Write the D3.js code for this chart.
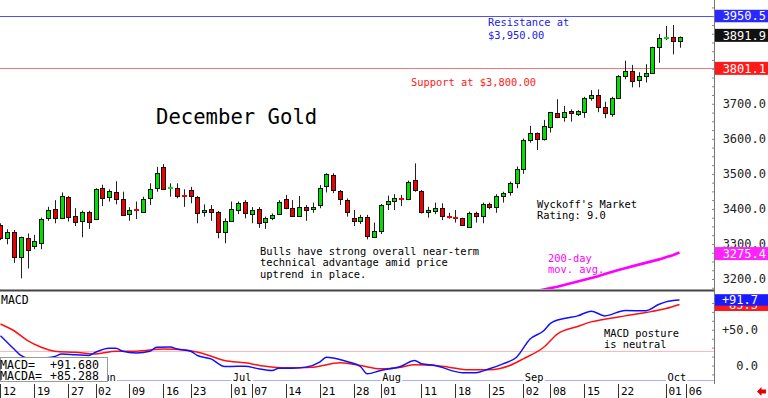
<!DOCTYPE html>
<html>
<head>
<meta charset="utf-8">
<script src="https://cdn.jsdelivr.net/npm/d3@7"></script>
<style>
  body { margin: 0; background: #fff; }
  text { font-family: "DejaVu Sans Mono", monospace; }
</style>
</head>
<body>
<svg id="chart" width="768" height="398"></svg>
<script>
// daily OHLC, December gold, trading day 0 = May 12
let open  = [3354,3316,3335,3262,3318,3294,3304,3375,3399,3373,3435,3381,3366,3392,3371,3460,3435,3448,3428,3385,
             3398,3392,3430,3459,3520,3458,3459,3439,3454,3435,3390,3399,3392,3335,3366,3397,3421,3385,3399,3364,
             3373,3385,3428,3402,3381,3406,3399,3411,3465,3497,3452,3425,3373,3366,3378,3321,3337,3413,3423,3430,
             3427,3483,3452,3390,3395,3402,3379,3376,3373,3349,3389,3380,3414,3405,3438,3447,3473,3513,3597,3616,
             3599,3633,3675,3661,3680,3670,3677,3717,3725,3692,3670,3717,3780,3794,3768,3779,3787,3861,3888,3892,3880];
let high  = [3359,3342,3340,3321,3330,3326,3375,3406,3425,3447,3437,3402,3395,3395,3459,3469,3456,3479,3449,3405,
             3421,3435,3473,3520,3528,3473,3473,3456,3463,3437,3413,3411,3394,3373,3421,3421,3425,3405,3405,3378,
             3387,3425,3440,3425,3437,3411,3418,3468,3502,3502,3454,3430,3397,3383,3383,3361,3414,3438,3442,3440,
             3481,3530,3454,3406,3418,3416,3389,3397,3375,3392,3392,3418,3418,3442,3449,3478,3521,3601,3637,3618,
             3654,3677,3713,3694,3684,3682,3720,3739,3741,3706,3720,3782,3823,3811,3790,3813,3863,3899,3922,3925,3892];
let low   = [3311,3299,3246,3202,3230,3285,3285,3366,3359,3371,3364,3351,3319,3343,3370,3408,3421,3413,3381,3366,
             3371,3389,3411,3449,3454,3435,3430,3406,3416,3359,3378,3366,3316,3302,3364,3385,3373,3359,3346,3343,
             3368,3383,3399,3378,3378,3366,3389,3402,3447,3445,3411,3378,3351,3357,3313,3319,3328,3397,3397,3408,
             3425,3449,3387,3375,3385,3368,3372,3361,3352,3346,3361,3359,3399,3389,3418,3438,3459,3500,3589,3568,
             3595,3618,3659,3649,3649,3665,3660,3709,3676,3659,3663,3716,3770,3747,3747,3761,3785,3817,3882,3841,3860];
let close = [3316,3335,3264,3319,3283,3309,3371,3397,3373,3437,3378,3364,3390,3364,3458,3430,3450,3428,3383,3397,
             3396,3427,3456,3503,3456,3460,3437,3437,3437,3389,3397,3392,3335,3366,3400,3418,3389,3397,3359,3373,
             3383,3421,3402,3381,3405,3397,3406,3461,3499,3454,3427,3392,3366,3378,3323,3337,3411,3423,3432,3428,
             3478,3454,3390,3397,3403,3380,3377,3374,3354,3389,3380,3413,3405,3438,3446,3473,3513,3598,3618,3599,
             3637,3676,3661,3677,3673,3680,3717,3725,3692,3675,3717,3780,3794,3766,3779,3789,3861,3887,3890,3880,3891.9];

// 200-day moving average (only the part above the panel floor)
let maDays   = [76,77,78,79,80,81,82,83,84,85,86,87,88,89,90,91,92,93,94,95,96,97,98,99,100];
let maValues = [3154,3158,3162,3166,3170,3174,3178,3183,3188,3193,3198,3203,3208,3214,3220,3226,3231,3236,3241,3246,3251,3256,3262,3268,3275.4];

// MACD (blue) and its average (red)
let macdDays  = [0,2,3,5,6,8,9,11,13,14,16,17,18,20,22,23,25,26,28,29,31,33,34,36,38,40,41,43,45,47,48,49,51,53,54,56,59,61,62,64,68,70,72,74,76,78,80,81,83,85,87,89,92,95,97,98,100];
let macdVals  = [41.7,23,14,8.3,10,12.5,16,15,14,18.5,24,24,20,17.6,20,25.5,26,23,20,14,9.3,-1.4,-1.4,-1,-4.6,-7,-3.7,-3.7,-2.3,4.6,11.6,10.6,5.6,-1.4,-11.6,-7,-1,7,2.3,0,-10,-10,-4.6,2.3,11.6,37,48.6,59,65.7,69.4,76,69.4,77,76.4,85.6,89,91.7];
let macdaDays = [0,2,4,6,8,11,14,17,20,24,27,30,33,36,39,42,46,50,53,56,59,61,64,66,69,72,75,77,80,82,85,87,89,92,95,98,100];
let macdaVals = [58,48.6,34.7,25.5,20,18.5,16.2,20,20,23,22,16.2,7,3.7,-1,-3.2,-2.3,3.7,0,-4.6,-2.3,1,0,-2.3,-6,-6,0,9.3,25.5,44,54.6,61,64.8,69.4,74,79.6,85.3];

// date axis
let tickDays   = [0,5,10,14,19,24,28,34,37,42,47,52,56,62,67,72,77,81,86,91,98,101];
let tickLabels = ["12","19","27","02","09","16","23","01","07","14","21","28","01","11","18","25","02","08","15","22","01","06"];
let monthDays   = [14,34,56,77,98];
let monthLabels = ["Jun","Jul","Aug","Sep","Oct"];

let priceTicks = [3200,3300,3400,3500,3600,3700,3800,3900];
let macdTicks = [0,50];

let resistance = 3950.5, support = 3801.1;
let lastMacd = 91.68, lastMacda = 85.288;

let plotW = 714;
let svg = d3.select('#chart');

let x = d3.scaleLinear().domain([-0.07, 105.08]).range([0, plotW]);
let yPrice = d3.scaleLinear().domain([3168.6, 3996.2]).range([290, 0]);
let yMacd = d3.scaleLinear().domain([-21, 102.8]).range([380.5, 292]);

let defs = svg.append('defs');
defs.append('clipPath').attr('id', 'priceClip')
  .append('rect').attr('x', 0).attr('y', 0).attr('width', plotW).attr('height', 289);
defs.append('clipPath').attr('id', 'macdClip')
  .append('rect').attr('x', 0).attr('y', 292).attr('width', plotW).attr('height', 89);

let crisp = v => Math.round(v) + 0.5;

// price panel
let price = svg.append('g').attr('clip-path', 'url(#priceClip)');

price.append('line')
  .attr('x1', 0).attr('x2', plotW)
  .attr('y1', crisp(yPrice(resistance))).attr('y2', crisp(yPrice(resistance)))
  .attr('stroke', '#5050ff');
price.append('line')
  .attr('x1', 0).attr('x2', plotW)
  .attr('y1', crisp(yPrice(support))).attr('y2', crisp(yPrice(support)))
  .attr('stroke', '#f07878');

price.append('path')
  .datum(maDays.map((d, k) => [d, maValues[k]]))
  .attr('fill', 'none')
  .attr('stroke', '#ff00ff')
  .attr('stroke-width', 2.6)
  .attr('d', d3.line().x(d => x(d[0])).y(d => yPrice(d[1])));

let candles = open.map((o, i) => ({ i, o, h: high[i], l: low[i], c: close[i] }));
let cg = price.selectAll('g.candle').data(candles).join('g').attr('class', 'candle');

cg.append('line')
  .attr('x1', d => crisp(x(d.i))).attr('x2', d => crisp(x(d.i)))
  .attr('y1', d => yPrice(d.h)).attr('y2', d => yPrice(d.l))
  .attr('stroke', '#222');

cg.each(function(d) {
  let g = d3.select(this);
  let cx = Math.round(x(d.i));
  let col = d.c >= d.o ? '#00e000' : '#ee0000';
  if (Math.abs(d.c - d.o) < 3) {
    g.append('rect')
      .attr('x', cx - 2).attr('width', 5)
      .attr('y', Math.round(yPrice((d.o + d.c) / 2)) - 1).attr('height', 2)
      .attr('fill', col);
  } else {
    let top = Math.round(yPrice(Math.max(d.o, d.c)));
    let bot = Math.round(yPrice(Math.min(d.o, d.c)));
    g.append('rect')
      .attr('x', cx - 1.5).attr('width', 4)
      .attr('y', top + 0.5).attr('height', bot - top)
      .attr('fill', col)
      .attr('stroke', '#111');
  }
});

// price annotations
function note(lines, px, py, size, color, lh) {
  let t = svg.append('text').attr('x', px).attr('y', py)
    .attr('font-size', size).attr('fill', color);
  lines.forEach((s, k) => {
    t.append('tspan').attr('x', px).attr('dy', k === 0 ? 0 : lh).text(s);
  });
  return t;
}
note(['Resistance at', '$3,950.00'], 488, 26, 10.4, '#2020e8', 12.5);
note(['Support at $3,800.00'], 411, 86, 10.4, '#ff2020', 12);
note(['December Gold'], 156, 124, 20.6, '#000', 0);
note(["Wyckoff's Market", 'Rating: 9.0'], 537, 208, 10.4, '#000', 10.5);
note(['Bulls have strong overall near-term', 'technical advantage amid price', 'uptrend in place.'], 260, 255, 10.4, '#000', 11.3);
note(['200-day', 'mov. avg.'], 548, 262, 10.4, '#ff00ff', 10.5);

// panel separator
svg.append('line')
  .attr('x1', 0).attr('x2', plotW).attr('y1', 290.5).attr('y2', 290.5)
  .attr('stroke', '#444').attr('stroke-width', 2);

// MACD panel
let macd = svg.append('g').attr('clip-path', 'url(#macdClip)');
macd.append('line')
  .attr('x1', 0).attr('x2', plotW)
  .attr('y1', crisp(yMacd(20))).attr('y2', crisp(yMacd(20)))
  .attr('stroke', '#ffb8b8');

let mline = d3.line().curve(d3.curveMonotoneX).x(d => x(d[0])).y(d => yMacd(d[1]));
macd.append('path')
  .datum(macdaDays.map((d, k) => [d, macdaVals[k]]))
  .attr('fill', 'none').attr('stroke', '#ff1010').attr('stroke-width', 1.5)
  .attr('d', mline);
macd.append('path')
  .datum(macdDays.map((d, k) => [d, macdVals[k]]))
  .attr('fill', 'none').attr('stroke', '#1010ff').attr('stroke-width', 1.5)
  .attr('d', mline);

note(['MACD'], 1, 304, 11.5, '#000', 0);
note(['MACD posture', 'is neutral'], 604, 337, 10.4, '#000', 10.5);

// month row
let monthG = svg.append('g');
let monthW = 19;
monthDays.forEach((d, k) => {
  let mx = x(d) + 1.5;
  monthG.append('text').attr('x', mx).attr('y', 381)
    .attr('font-size', 10.4).attr('fill', '#000').text(monthLabels[k]);
  let nx = k + 1 < monthDays.length ? x(monthDays[k + 1]) : plotW;
  monthG.append('line')
    .attr('x1', mx + monthW + 1).attr('x2', nx)
    .attr('y1', 380.5).attr('y2', 380.5)
    .attr('stroke', '#a8b0ff');
});
monthG.append('line')
  .attr('x1', 0).attr('x2', x(monthDays[0]))
  .attr('y1', 380.5).attr('y2', 380.5).attr('stroke', '#a8b0ff');

// date ticks
let dates = svg.append('g');
tickDays.forEach((d, k) => {
  dates.append('line')
    .attr('x1', crisp(x(d))).attr('x2', crisp(x(d)))
    .attr('y1', 384).attr('y2', 398)
    .attr('stroke', '#333');
  dates.append('text')
    .attr('x', x(d) + 2.5).attr('y', 395)
    .attr('font-size', 11).attr('fill', '#000')
    .text(tickLabels[k]);
});

// right axis line and minor ticks
svg.append('line')
  .attr('x1', plotW + 0.5).attr('x2', plotW + 0.5).attr('y1', 0).attr('y2', 384)
  .attr('stroke', '#777');

let minorP = svg.append('g').attr('transform', `translate(${plotW},0)`)
  .call(d3.axisLeft(yPrice).tickValues(d3.range(3175, 3996, 25)).tickSize(2).tickFormat(''));
let minorM = svg.append('g').attr('transform', `translate(${plotW},0)`)
  .call(d3.axisLeft(yMacd).tickValues(d3.range(-12.5, 100, 12.5)).tickSize(2).tickFormat(''));
[minorP, minorM].forEach(g => {
  g.select('.domain').remove();
  g.selectAll('line').attr('stroke', '#888');
});

// price labels
let pAxis = svg.append('g').attr('transform', `translate(${plotW},0)`)
  .call(d3.axisRight(yPrice).tickValues(priceTicks).tickSize(0).tickFormat(d => d.toFixed(1)));
pAxis.select('.domain').remove();
pAxis.selectAll('text')
  .attr('x', 52).attr('text-anchor', 'end')
  .attr('font-family', '"DejaVu Sans Mono", monospace').attr('font-size', 12).attr('fill', '#222');

let mAxis = svg.append('g').attr('transform', `translate(${plotW},0)`)
  .call(d3.axisRight(yMacd).tickValues(macdTicks).tickSize(0).tickFormat(d => (d > 0 ? '+' : '') + d.toFixed(1)));
mAxis.select('.domain').remove();
mAxis.selectAll('text')
  .attr('x', 44).attr('text-anchor', 'end')
  .attr('font-family', '"DejaVu Sans Mono", monospace').attr('font-size', 12).attr('fill', '#222');

// value boxes on the right
function valueBox(yv, txt, bg, right, h) {
  svg.append('rect')
    .attr('x', plotW + 1).attr('width', 768 - plotW - 1)
    .attr('y', yv - h / 2).attr('height', h)
    .attr('fill', bg);
  svg.append('text')
    .attr('x', right).attr('y', yv + 4.3)
    .attr('text-anchor', 'end').attr('font-size', 12).attr('fill', '#fff')
    .text(txt);
}
valueBox(yPrice(resistance), resistance.toFixed(1), '#2a2aff', 766, 12.5);
valueBox(yPrice(close[close.length - 1]) - 1.2, close[close.length - 1].toFixed(1), '#111', 766, 13);
valueBox(yPrice(support), support.toFixed(1), '#ff1a1a', 766, 13);
valueBox(yPrice(maValues[maValues.length - 1]) + 1, maValues[maValues.length - 1].toFixed(1), '#ff22ff', 766, 13);
valueBox(yMacd(lastMacda) + 0.5, lastMacda.toFixed(1), '#ff1a1a', 758, 12);
valueBox(yMacd(lastMacd), '+' + lastMacd.toFixed(1), '#1a1aff', 758, 11.5);

// legend box
let leg = svg.append('g');
leg.append('rect').attr('x', 0.5).attr('y', 357.5).attr('width', 107).attr('height', 24)
  .attr('fill', '#fff').attr('stroke', '#999');
[['MACD=', '+' + lastMacd.toFixed(3)], ['MACDA=', '+' + lastMacda.toFixed(3)]].forEach((r, k) => {
  leg.append('text').attr('x', 0).attr('y', 369 + k * 11).attr('font-size', 11.6).text(r[0]);
  leg.append('text').attr('x', 50).attr('y', 369 + k * 11).attr('font-size', 11.6).text(r[1]);
});

// little red arrow bottom right
svg.append('path')
  .attr('d', 'M757,391.5 L761.5,387 L761.5,389.5 L766,389.5 L766,393.5 L761.5,393.5 L761.5,396 Z')
  .attr('fill', '#e00000');
</script>
</body>
</html>
